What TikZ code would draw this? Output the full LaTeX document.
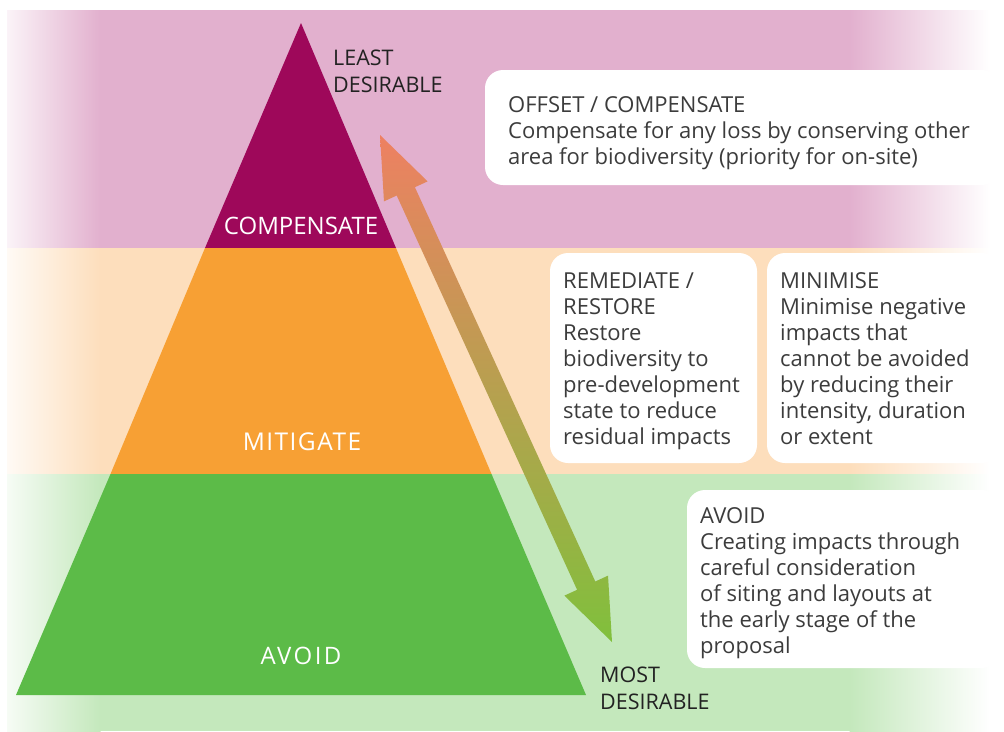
\documentclass[tikz,border=0pt]{standalone}
\usepackage{fontspec}
\setmainfont{Open Sans}
\usetikzlibrary{calc}
\definecolor{pinkbg}{RGB}{226,176,206}
\definecolor{peachbg}{RGB}{253,222,188}
\definecolor{greenbg}{RGB}{196,232,188}
\definecolor{compc}{RGB}{158,8,90}
\definecolor{mitc}{RGB}{247,160,52}
\definecolor{avoidc}{RGB}{92,187,72}
\definecolor{txt}{RGB}{60,60,60}
\definecolor{dtxt}{RGB}{34,34,34}
\definecolor{arrtop}{RGB}{238,128,98}
\definecolor{arrmid}{RGB}{214,168,80}
\definecolor{arrbot}{RGB}{128,192,60}
\newcommand{\blk}[1]{\begin{tabular}[t]{@{}l@{}}#1\end{tabular}}
\begin{document}
\begin{tikzpicture}[x=1pt,y=-1pt,
  infobox/.style={fill=white, draw=none, rounded corners=18pt},
  bodytext/.style={anchor=base west, inner sep=0pt, text=txt, font=\fontsize{22}{26}\selectfont},
  sidelabel/.style={anchor=base west, inner sep=0pt, text=dtxt, font=\fontsize{21.5}{27.5}\selectfont},
  levellabel/.style={anchor=base, inner sep=0pt, text=white, font=\fontsize{24}{26}\selectfont}]
\useasboundingbox (0,0) rectangle (1004,731);
\fill[white] (0,0) rectangle (1004,731);
% background bands
\foreach \c/\ya/\yb in {pinkbg/10/248, peachbg/248/474, greenbg/474/731}{
  \fill[\c] (100,\ya) rectangle (850,\yb);
  \shade[left color=\c!15, right color=\c] (7,\ya) rectangle (100.5,\yb);
  \shade[left color=\c, right color=white] (849.5,\ya) rectangle (990,\yb);
}
% pyramid
\coordinate (apex) at (301,23);
\fill[compc] (apex) -- (396,248) -- (205,248) -- cycle;
\fill[mitc] (205,248) -- (396,248) -- (491.5,474) -- (110.5,474) -- cycle;
\fill[avoidc] (110.5,474) -- (491.5,474) -- (586,695) -- (16,695) -- cycle;
\node[levellabel] (lc) at (301,234) {COMPENSATE};
\node[levellabel, font=\fontsize{24.5}{26}\selectfont\addfontfeatures{LetterSpace=6}] (lm) at (302,450) {MITIGATE};
\node[levellabel, font=\fontsize{24}{26}\selectfont\addfontfeatures{LetterSpace=10}] (la) at (301,664) {AVOID};
% double arrow
\coordinate (T1) at (380,135);
\coordinate (T2) at (612,642);
\coordinate (H1) at ($(T1)!62pt!(T2)$);
\coordinate (H2) at ($(T2)!62pt!(T1)$);
\shade[top color=arrtop, middle color=arrmid, bottom color=arrbot]
  (T1) -- ($(H1)!24pt!90:(T1)$) -- ($(H1)!10pt!90:(T1)$)
  -- ($(H2)!10pt!-90:(T2)$) -- ($(H2)!24pt!-90:(T2)$) -- (T2)
  -- ($(H2)!24pt!90:(T2)$) -- ($(H2)!10pt!90:(T2)$)
  -- ($(H1)!10pt!-90:(T1)$) -- ($(H1)!24pt!-90:(T1)$) -- cycle;
% side labels
\node[sidelabel] (least) at (333,65) {\blk{LEAST\\DESIRABLE}};
\node[sidelabel] (most) at (600,682) {\blk{MOST\\DESIRABLE}};
% boxes
\fill[infobox] (485,70) rectangle (1000,185);
\fill[infobox] (550,253) rectangle (757,463);
\fill[infobox] (767,253) rectangle (1000,463);
\fill[infobox] (687,490) rectangle (1000,668);
\node[bodytext] (offset) at (508,112) {\blk{OFFSET / COMPENSATE\\Compensate for any loss by conserving other\\area for biodiversity (priority for on-site)}};
\node[bodytext] (remed) at (563,288) {\blk{REMEDIATE /\\RESTORE\\Restore\\biodiversity to\\pre-development\\state to reduce\\residual impacts}};
\node[bodytext] (minim) at (780,288) {\blk{MINIMISE\\Minimise negative\\impacts that\\cannot be avoided\\by reducing their\\intensity, duration\\or extent}};
\node[bodytext] (avoidt) at (700,523) {\blk{AVOID\\Creating impacts through\\careful consideration\\of siting and layouts at\\the early stage of the\\proposal}};
\end{tikzpicture}
\end{document}
